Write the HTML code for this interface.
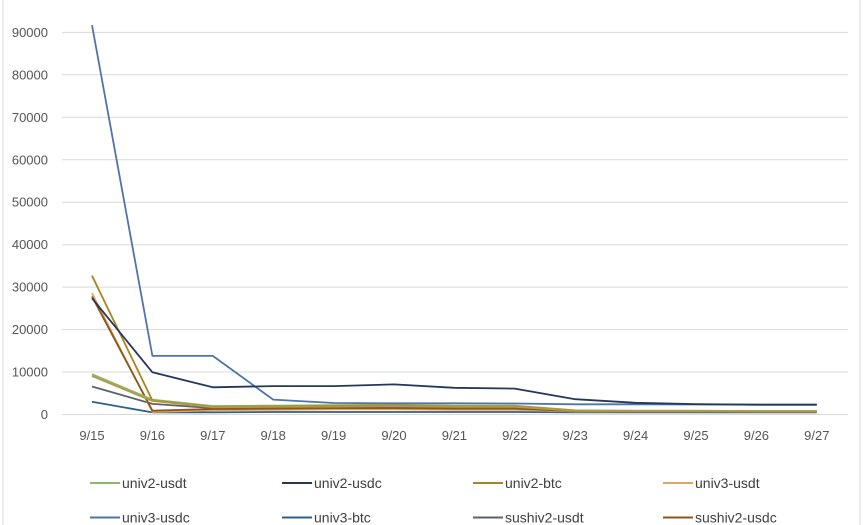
<!DOCTYPE html>
<html>
<head>
<meta charset="utf-8">
<style>
  html, body { margin:0; padding:0; background:#ffffff; }
  body { width:865px; height:525px; overflow:hidden; }
  svg { display:block; }
  text { font-family: "Liberation Sans", "DejaVu Sans", sans-serif; }
</style>
</head>
<body>
<svg width="865" height="525" viewBox="0 0 865 525" xmlns="http://www.w3.org/2000/svg">
  <rect x="0" y="0" width="865" height="525" fill="#ffffff"/>
  <!-- chart border -->
  <line x1="3" y1="0" x2="3" y2="525" stroke="#d9d9d9" stroke-width="1"/>
  <line x1="860" y1="0" x2="860" y2="525" stroke="#d9d9d9" stroke-width="1"/>

  <!-- gridlines -->
  <g stroke="#d9d9d9" stroke-width="1">
    <line x1="62" y1="32.4" x2="848" y2="32.4"/>
    <line x1="62" y1="74.8" x2="848" y2="74.8"/>
    <line x1="62" y1="117.3" x2="848" y2="117.3"/>
    <line x1="62" y1="159.8" x2="848" y2="159.8"/>
    <line x1="62" y1="202.2" x2="848" y2="202.2"/>
    <line x1="62" y1="244.7" x2="848" y2="244.7"/>
    <line x1="62" y1="287.1" x2="848" y2="287.1"/>
    <line x1="62" y1="329.6" x2="848" y2="329.6"/>
    <line x1="62" y1="372.0" x2="848" y2="372.0"/>
    <line x1="62" y1="414.5" x2="848" y2="414.5"/>
  </g>

  <!-- y labels -->
  <g fill="#555555" font-size="13" text-anchor="end">
    <text x="48" y="37">90000</text>
    <text x="48" y="79.3">80000</text>
    <text x="48" y="121.8">70000</text>
    <text x="48" y="164.3">60000</text>
    <text x="48" y="206.7">50000</text>
    <text x="48" y="249.2">40000</text>
    <text x="48" y="291.6">30000</text>
    <text x="48" y="334.1">20000</text>
    <text x="48" y="376.5">10000</text>
    <text x="48" y="419">0</text>
  </g>

  <!-- x labels -->
  <g fill="#555555" font-size="13" text-anchor="middle">
    <text x="92" y="440">9/15</text>
    <text x="152.4" y="440">9/16</text>
    <text x="212.8" y="440">9/17</text>
    <text x="273.2" y="440">9/18</text>
    <text x="333.6" y="440">9/19</text>
    <text x="394" y="440">9/20</text>
    <text x="454.4" y="440">9/21</text>
    <text x="514.8" y="440">9/22</text>
    <text x="575.2" y="440">9/23</text>
    <text x="635.6" y="440">9/24</text>
    <text x="696" y="440">9/25</text>
    <text x="756.4" y="440">9/26</text>
    <text x="816.8" y="440">9/27</text>
  </g>

  <!-- series -->
  <g fill="none" stroke-width="1.8" stroke-linejoin="round">
    <!-- univ3-btc -->
    <polyline stroke="#2f5f8a" points="92,401.8 152.4,412.4 212.8,412.4 273.2,412.0 333.6,412.0 394,412.0 454.4,412.0 514.8,412.0 575.2,412.4 635.6,412.4 696,412.4 756.4,412.4 816.8,412.4"/>
    <!-- sushiv2-usdt -->
    <polyline stroke="#5c6170" points="92,386.5 152.4,403.9 212.8,408.1 273.2,407.7 333.6,407.3 394,406.9 454.4,407.7 514.8,407.7 575.2,410.7 635.6,411.1 696,411.1 756.4,411.1 816.8,411.1"/>
    <!-- univ3-usdt -->
    <polyline stroke="#e3a55e" points="92,293.1 152.4,412.0 212.8,410.3 273.2,409.8 333.6,409.4 394,409.4 454.4,409.8 514.8,409.8 575.2,411.5 635.6,411.5 696,411.5 756.4,411.7 816.8,411.7"/>
    <!-- sushiv2-usdc -->
    <polyline stroke="#8a5720" points="92,296.5 152.4,410.7 212.8,409.0 273.2,408.6 333.6,408.1 394,408.1 454.4,408.6 514.8,408.6 575.2,411.1 635.6,411.3 696,411.3 756.4,411.5 816.8,411.5"/>
    <!-- univ2-usdt -->
    <polyline stroke="#8fb56e" points="92,374.2 152.4,399.6 212.8,406.0 273.2,405.6 333.6,405.2 394,404.7 454.4,405.6 514.8,405.6 575.2,410.3 635.6,410.7 696,410.7 756.4,411.1 816.8,411.1"/>
    <!-- univ2-btc -->
    <polyline stroke="#a5861f" points="92,275.7 152.4,400.5 212.8,406.9 273.2,406.4 333.6,406.0 394,405.6 454.4,406.4 514.8,406.4 575.2,410.7 635.6,411.1 696,411.1 756.4,411.3 816.8,411.3"/>
    <polyline stroke="#b09a45" points="92,376.0 152.4,401.0 212.8,407.2 273.2,406.8 333.6,406.6 394,406.2 454.4,406.8 514.8,406.8 575.2,410.9 635.6,411.2 696,411.2 756.4,411.4 816.8,411.4"/>
    <!-- univ3-usdc -->
    <polyline stroke="#4f74a8" points="92,25.1 152.4,355.9 212.8,355.9 273.2,399.6 333.6,403.0 394,403.3 454.4,403.3 514.8,403.5 575.2,404.3 635.6,404.3 696,404.5 756.4,404.7 816.8,404.7"/>
    <!-- univ2-usdc -->
    <polyline stroke="#253858" points="92,298.2 152.4,372.3 212.8,387.3 273.2,386.1 333.6,386.1 394,384.4 454.4,387.8 514.8,388.6 575.2,399.2 635.6,402.8 696,404.1 756.4,404.7 816.8,404.7"/>
  </g>

  <!-- legend -->
  <g stroke-width="2">
    <line x1="90" y1="483" x2="120" y2="483" stroke="#8fb56e"/>
    <line x1="282" y1="483" x2="312" y2="483" stroke="#253858"/>
    <line x1="473" y1="483" x2="503" y2="483" stroke="#a5861f"/>
    <line x1="663" y1="483" x2="693" y2="483" stroke="#e3a55e"/>
    <line x1="90" y1="517.5" x2="120" y2="517.5" stroke="#4f74a8"/>
    <line x1="282" y1="517.5" x2="312" y2="517.5" stroke="#2f5f8a"/>
    <line x1="473" y1="517.5" x2="503" y2="517.5" stroke="#5c6170"/>
    <line x1="663" y1="517.5" x2="693" y2="517.5" stroke="#8a5720"/>
  </g>
  <g fill="#404040" font-size="14">
    <text x="122" y="488">univ2-usdt</text>
    <text x="314" y="488">univ2-usdc</text>
    <text x="505" y="488">univ2-btc</text>
    <text x="695" y="488">univ3-usdt</text>
    <text x="122" y="522.5">univ3-usdc</text>
    <text x="314" y="522.5">univ3-btc</text>
    <text x="505" y="522.5">sushiv2-usdt</text>
    <text x="695" y="522.5">sushiv2-usdc</text>
  </g>
</svg>
</body>
</html>
